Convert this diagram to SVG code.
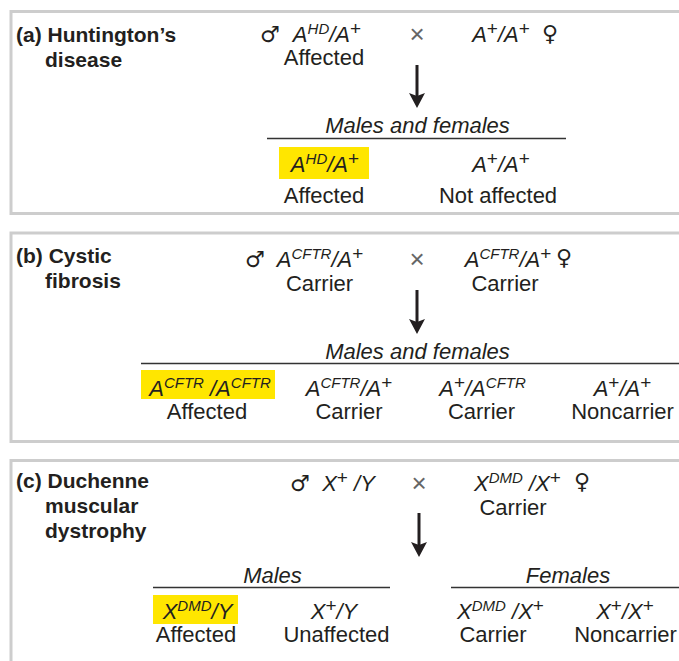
<svg xmlns="http://www.w3.org/2000/svg" width="679" height="661" viewBox="0 0 679 661">
<defs>
<style>
.panel{fill:none;stroke:#cdcdcd;stroke-width:3}
text{font-family:"Liberation Sans",Arial,sans-serif;fill:#231f20}
.title{font-size:21px;font-weight:bold}
.ph{font-size:22px;text-anchor:middle}
.g{font-size:22px;font-style:italic;text-anchor:middle}
.sup{font-size:15px}
.pl{font-size:19px;font-style:normal}
.hdr{font-size:22px;font-style:italic;text-anchor:middle}
.sex{font-family:"DejaVu Sans",sans-serif;font-size:22px;font-weight:normal}
.cross{font-size:26px;fill:#666;text-anchor:middle}
.rule{stroke:#333;stroke-width:1.6}
.hl{fill:#ffe600}
.arrow{stroke:#231f20;stroke-width:3;fill:none}
</style>
<marker id="ah" markerUnits="userSpaceOnUse" markerWidth="18" markerHeight="18" viewBox="0 -9 16 18" refX="7" refY="0" orient="auto">
<path d="M0,-8 L15,0 L0,8 L3,0 z" fill="#231f20"/>
</marker>
</defs>

<rect class="panel" x="11" y="11.5" width="720" height="202"/>
<rect class="panel" x="11" y="233" width="720" height="208.5"/>
<rect class="panel" x="11" y="460.5" width="720" height="240"/>

<g id="connectors">
<line class="arrow" x1="417" y1="65" x2="417" y2="100" marker-end="url(#ah)"/>
<line class="arrow" x1="417" y1="290" x2="417" y2="326" marker-end="url(#ah)"/>
<line class="arrow" x1="419" y1="513" x2="419" y2="549" marker-end="url(#ah)"/>
</g>

<!-- Panel (a) -->
<g id="a-title">
<text class="title" x="16" y="42">(a) Huntington’s</text>
<text class="title" x="45" y="67">disease</text>
</g>
<g id="a-male">
<text class="sex" x="260" y="42">♂</text>
<text class="g" x="327" y="42">A<tspan class="sup" dy="-8">HD</tspan><tspan dy="8">/A</tspan><tspan class="pl" dy="-7">+</tspan></text>
<text class="ph" x="324" y="65">Affected</text>
</g>
<text class="cross" x="417" y="43">×</text>
<g id="a-female">
<text class="g" x="501" y="42">A<tspan class="pl" dy="-7">+</tspan><tspan dy="7">/A</tspan><tspan class="pl" dy="-7">+</tspan></text>
<text class="sex" x="542" y="41">♀</text>
</g>
<g id="a-offspring-header">
<text class="hdr" x="417.5" y="133">Males and females</text>
<line class="rule" x1="267" y1="138.5" x2="566" y2="138.5"/>
</g>
<g id="a-off1">
<rect class="hl" x="279" y="147" width="90" height="32"/>
<text class="g" x="325" y="172">A<tspan class="sup" dy="-8">HD</tspan><tspan dy="8">/A</tspan><tspan class="pl" dy="-7">+</tspan></text>
<text class="ph" x="324" y="203">Affected</text>
</g>
<g id="a-off2">
<text class="g" x="501" y="172">A<tspan class="pl" dy="-7">+</tspan><tspan dy="7">/A</tspan><tspan class="pl" dy="-7">+</tspan></text>
<text class="ph" x="498" y="203">Not affected</text>
</g>

<!-- Panel (b) -->
<g id="b-title">
<text class="title" x="16" y="263">(b) Cystic</text>
<text class="title" x="45" y="288">fibrosis</text>
</g>
<g id="b-male">
<text class="sex" x="245" y="267">♂</text>
<text class="g" x="320" y="267">A<tspan class="sup" dy="-8">CFTR</tspan><tspan dy="8">/A</tspan><tspan class="pl" dy="-7">+</tspan></text>
<text class="ph" x="319.5" y="291">Carrier</text>
</g>
<text class="cross" x="417" y="268">×</text>
<g id="b-female">
<text class="g" x="508" y="267">A<tspan class="sup" dy="-8">CFTR</tspan><tspan dy="8">/A</tspan><tspan class="pl" dy="-7">+</tspan></text>
<text class="sex" x="556" y="265">♀</text>
<text class="ph" x="505" y="291">Carrier</text>
</g>
<g id="b-offspring-header">
<text class="hdr" x="417.5" y="359">Males and females</text>
<line class="rule" x1="141" y1="363.5" x2="679" y2="363.5"/>
</g>
<g id="b-off1">
<rect class="hl" x="141" y="370" width="134" height="29"/>
<text class="g" x="210" y="396">A<tspan class="sup" dy="-8">CFTR</tspan><tspan dy="8"> /A</tspan><tspan class="sup" dy="-8">CFTR</tspan></text>
<text class="ph" x="207" y="419">Affected</text>
</g>
<g id="b-off2">
<text class="g" x="349" y="396">A<tspan class="sup" dy="-8">CFTR</tspan><tspan dy="8">/A</tspan><tspan class="pl" dy="-7">+</tspan></text>
<text class="ph" x="349" y="419">Carrier</text>
</g>
<g id="b-off3">
<text class="g" x="482.5" y="396">A<tspan class="pl" dy="-7">+</tspan><tspan dy="7">/A</tspan><tspan class="sup" dy="-8">CFTR</tspan></text>
<text class="ph" x="481.5" y="419">Carrier</text>
</g>
<g id="b-off4">
<text class="g" x="622.5" y="396">A<tspan class="pl" dy="-7">+</tspan><tspan dy="7">/A</tspan><tspan class="pl" dy="-7">+</tspan></text>
<text class="ph" x="622.5" y="419">Noncarrier</text>
</g>

<!-- Panel (c) -->
<g id="c-title">
<text class="title" x="16" y="488">(c) Duchenne</text>
<text class="title" x="45" y="513">muscular</text>
<text class="title" x="45" y="538">dystrophy</text>
</g>
<g id="c-male">
<text class="sex" x="290" y="491">♂</text>
<text class="g" x="348.5" y="491">X<tspan class="pl" dy="-7">+</tspan><tspan dy="7"> /Y</tspan></text>
</g>
<text class="cross" x="419" y="492">×</text>
<g id="c-female">
<text class="g" x="517.5" y="491">X<tspan class="sup" dy="-8">DMD</tspan><tspan dy="8"> /X</tspan><tspan class="pl" dy="-7">+</tspan></text>
<text class="sex" x="574" y="489">♀</text>
<text class="ph" x="513" y="515">Carrier</text>
</g>
<g id="c-males-header">
<text class="hdr" x="272.5" y="583">Males</text>
<line class="rule" x1="153" y1="587.5" x2="390" y2="587.5"/>
</g>
<g id="c-females-header">
<text class="hdr" x="568" y="583">Females</text>
<line class="rule" x1="451" y1="587.5" x2="679" y2="587.5"/>
</g>
<g id="c-off1">
<rect class="hl" x="153" y="595" width="85" height="29"/>
<text class="g" x="197.5" y="619">X<tspan class="sup" dy="-8">DMD</tspan><tspan dy="8">/Y</tspan></text>
<text class="ph" x="196" y="642">Affected</text>
</g>
<g id="c-off2">
<text class="g" x="334" y="619">X<tspan class="pl" dy="-7">+</tspan><tspan dy="7">/Y</tspan></text>
<text class="ph" x="336.5" y="642">Unaffected</text>
</g>
<g id="c-off3">
<text class="g" x="500.5" y="619">X<tspan class="sup" dy="-8">DMD</tspan><tspan dy="8"> /X</tspan><tspan class="pl" dy="-7">+</tspan></text>
<text class="ph" x="493" y="642">Carrier</text>
</g>
<g id="c-off4">
<text class="g" x="625" y="619">X<tspan class="pl" dy="-7">+</tspan><tspan dy="7">/X</tspan><tspan class="pl" dy="-7">+</tspan></text>
<text class="ph" x="625.5" y="642">Noncarrier</text>
</g>
</svg>
